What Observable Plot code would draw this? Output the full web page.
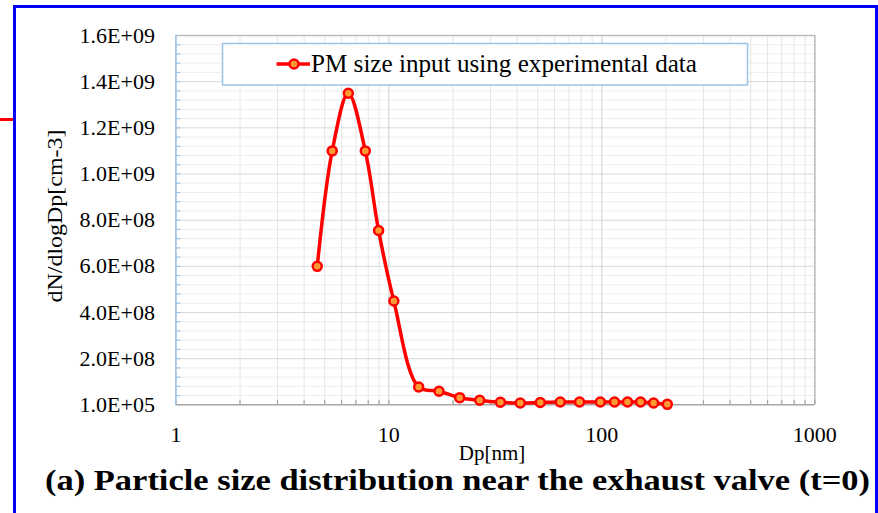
<!DOCTYPE html>
<html>
<head>
<meta charset="utf-8">
<script src="https://cdn.jsdelivr.net/npm/d3@7"></script>
<script src="https://cdn.jsdelivr.net/npm/@observablehq/plot@0.6"></script>
<style>
  body { margin: 0; background: #fff; }
  #wrap { position: relative; width: 878px; height: 513px; overflow: hidden; background: #fff; font-family: "Liberation Serif", "Times New Roman", serif; }
  #frame { position: absolute; left: 12.5px; top: 4.5px; width: 865.5px; height: 600px; box-sizing: border-box; border: 3px solid #0000ff; }
  #redmark { position: absolute; left: 0; top: 117.5px; width: 13px; height: 3.5px; background: #ff0000; }
  #chart { position: absolute; left: 0; top: 0; }
  #overlay { position: absolute; left: 0; top: 0; pointer-events: none; }
</style>
</head>
<body>
<div id="wrap">
  <div id="frame"></div>
  <div id="redmark"></div>
  <div id="chart"></div>
  <svg id="overlay" width="878" height="513"></svg>
</div>
<script>
// ---- data ----
const dp = [4.61, 5.42, 6.45, 7.75, 8.95, 10.55, 13.8, 17.2, 21.5, 26.7, 33.4, 41.4, 51.4, 63.8, 78.6, 98.4, 114.7, 132, 152, 175, 203];
const dNdlogDp = [6.0e8, 1.10e9, 1.35e9, 1.10e9, 7.55e8, 4.5e8, 7.7e7, 5.9e7, 3.1e7, 2.0e7, 1.1e7, 8e6, 1.0e7, 1.2e7, 1.2e7, 1.2e7, 1.2e7, 1.2e7, 1.2e7, 8e6, 2e6];
const seriesName = "PM size input using experimental data";
const xTicks = [1, 10, 100, 1000];
const yTicks = [1e5, 2e8, 4e8, 6e8, 8e8, 1e9, 1.2e9, 1.4e9, 1.6e9];
const xLabel = "Dp[nm]";
const yLabel = "dN/dlogDp[cm-3]";
const caption = "(a) Particle size distribution near the exhaust valve (t=0)";

const data = dp.map((d, i) => ({dp: d, n: dNdlogDp[i]}));

// minor gridline positions
const xMinor = [];
[1, 10, 100].forEach(dec => { for (let k = 2; k <= 9; k++) xMinor.push(dec * k); });
const yStepsAll = d3.range(1, 40).map(i => i * 4e7);
const yMinor = yStepsAll.filter(v => v % 2e8 !== 0);

function fmtE(d) {
  const e = Math.floor(Math.log10(d) + 1e-9);
  const m = d / Math.pow(10, e);
  return m.toFixed(1) + "E+" + String(e).padStart(2, "0");
}

const plot = Plot.plot({
  width: 878,
  height: 513,
  marginLeft: 175.4,
  marginRight: 63.7,
  marginTop: 35,
  marginBottom: 108.7,
  x: {type: "log", domain: [1, 1000], label: null},
  y: {domain: [1e5, 1.6e9], label: null},
  style: {fontFamily: "'Liberation Serif', 'Times New Roman', serif", background: "transparent", color: "#000"},
  marks: [
    Plot.gridY(yMinor, {stroke: "#eeeeee", strokeOpacity: 1}),
    Plot.gridX(xMinor, {stroke: "#e6e6e6", strokeOpacity: 1}),
    Plot.gridY(yTicks.slice(1), {stroke: "#d9d9d9", strokeOpacity: 1}),
    Plot.gridX(xTicks, {stroke: "#cfcfcf", strokeOpacity: 1}),
    Plot.ruleY([1.6e9], {stroke: "#bcbcbc", strokeWidth: 1.5}),
    Plot.ruleX([1000], {stroke: "#bcbcbc", strokeWidth: 1.5}),
    Plot.ruleY(yStepsAll, {x1: 1, x2: 1.055, stroke: "#9dc3e6", strokeWidth: 1.2}),
    Plot.ruleX(xMinor.concat(xTicks), {y1: 1e5, y2: 1.8e7, stroke: "#a0a0a0", strokeWidth: 1.2}),
    Plot.ruleX([1], {stroke: "#9dc3e6", strokeWidth: 1.5}),
    Plot.ruleY([1e5], {stroke: "#a6a6a6", strokeWidth: 1.5}),
    Plot.axisX({ticks: xTicks, tickSize: 0, tickPadding: 22, fontSize: 22, tickFormat: d => String(d), label: null}),
    Plot.axisY({ticks: yTicks, tickSize: 0, tickPadding: 21, fontSize: 22, tickFormat: fmtE, label: null}),
    Plot.line(data, {x: "dp", y: "n", stroke: "#ff0000", strokeWidth: 3.5, curve: "catmull-rom"}),
    Plot.dot(data, {x: "dp", y: "n", r: 4.5, fill: "#ff9933", stroke: "#ff0000", strokeWidth: 2.5})
  ]
});
document.getElementById("chart").appendChild(plot);

// ---- overlay: legend, axis titles, caption ----
const ov = d3.select("#overlay");
const ff = "'Liberation Serif', 'Times New Roman', serif";
// legend
ov.append("rect").attr("x", 222.5).attr("y", 43.5).attr("width", 525).attr("height", 41.5)
  .attr("fill", "#fff").attr("stroke", "#9dc3e6").attr("stroke-width", 1.5);
ov.append("line").attr("x1", 276.5).attr("x2", 310).attr("y1", 64).attr("y2", 64)
  .attr("stroke", "#ff0000").attr("stroke-width", 3.5);
ov.append("circle").attr("cx", 294).attr("cy", 64).attr("r", 4.5)
  .attr("fill", "#ff9933").attr("stroke", "#ff0000").attr("stroke-width", 2.5);
ov.append("text").attr("x", 311).attr("y", 72).attr("font-family", ff).attr("font-size", 25)
  .attr("textLength", 386).attr("lengthAdjust", "spacingAndGlyphs").attr("fill", "#000").text(seriesName);
// y title
ov.append("text").attr("transform", "translate(54,216) rotate(-90)").attr("text-anchor", "middle")
  .attr("dominant-baseline", "central").attr("font-family", ff).attr("font-size", 22)
  .attr("textLength", 173).attr("lengthAdjust", "spacingAndGlyphs").attr("fill", "#000").text(yLabel);
// x title
ov.append("text").attr("x", 492).attr("y", 460).attr("text-anchor", "middle")
  .attr("font-family", ff).attr("font-size", 21).attr("fill", "#000").text(xLabel);
// caption
ov.append("text").attr("x", 45).attr("y", 490).attr("font-family", ff).attr("font-size", 29)
  .attr("font-weight", "bold").attr("textLength", 825).attr("lengthAdjust", "spacingAndGlyphs")
  .attr("fill", "#000").text(caption);
</script>
</body>
</html>
